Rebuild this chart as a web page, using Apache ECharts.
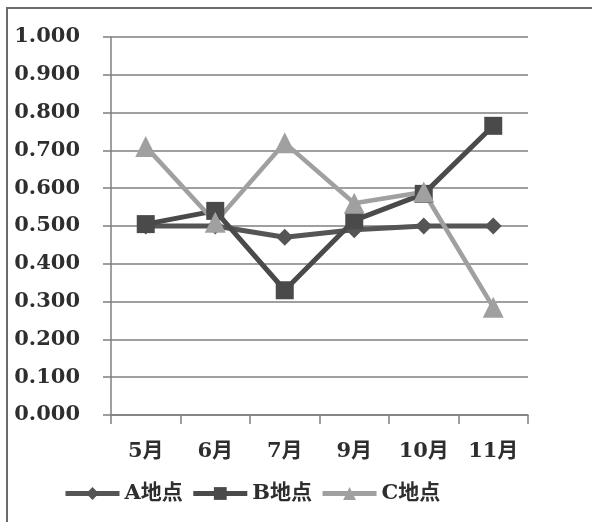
<!DOCTYPE html>
<html><head><meta charset="utf-8">
<script src="https://cdn.jsdelivr.net/npm/echarts@6/dist/echarts.min.js"></script>
<style>html,body{margin:0;padding:0;background:#fff}#c{width:592px;height:522px}</style>
</head><body><div id="c"></div>
<script>
const categories = ['5月','6月','7月','9月','10月','11月'];
const seriesA = [0.500, 0.500, 0.470, 0.490, 0.500, 0.500];
const seriesB = [0.505, 0.540, 0.330, 0.515, 0.585, 0.765];
const seriesC = [0.710, 0.510, 0.720, 0.560, 0.590, 0.285];
const seriesNames = ['A地点','B地点','C地点'];
const yTicks = {min: 0, max: 1, interval: 0.1};

const FONT = '"DejaVu Serif", "Noto Sans CJK SC", serif';
const TXT = {fontFamily:FONT, fontSize:21, fontWeight:'bold', color:'#2e2e2e'};
const chart = echarts.init(document.getElementById('c'));
function mk(name, data, color, symbol, size, w){
  return {name, type:'line', data, symbol, symbolSize:size, showSymbol:true,
    lineStyle:{color:color, width:w}, itemStyle:{color:color}, emphasis:{disabled:true}, animation:false};
}
chart.setOption({
  animation:false,
  graphic:[{type:'rect', shape:{x:7,y:8,width:600,height:530}, style:{fill:'none', stroke:'#6b6b6b', lineWidth:2}}],
  grid:{left:111, right:64, top:37, bottom:107},
  legend:{left:58, top:478, itemWidth:54, itemHeight:16, itemGap:8,
    lineStyle:{width:5},
    textStyle:Object.assign({}, TXT), data:seriesNames},
  xAxis:{type:'category', data:categories, boundaryGap:true,
    axisLine:{lineStyle:{color:'#7f7f7f', width:1.5}},
    axisTick:{show:true, length:9, lineStyle:{color:'#7f7f7f', width:1.5}},
    axisLabel:Object.assign({margin:26}, TXT)},
  yAxis:{type:'value', min:yTicks.min, max:yTicks.max, interval:yTicks.interval,
    axisLine:{show:true, lineStyle:{color:'#7f7f7f', width:1.5}},
    axisTick:{show:true, length:8, lineStyle:{color:'#7f7f7f', width:1.5}},
    splitLine:{lineStyle:{color:'#7f7f7f', width:1.5}},
    axisLabel:Object.assign({margin:31, formatter:v=>v.toFixed(3)}, TXT)},
  series:[
    mk(seriesNames[0], seriesA, '#555555', 'diamond', 17, 5),
    mk(seriesNames[1], seriesB, '#4a4a4a', 'rect', 18, 5),
    mk(seriesNames[2], seriesC, '#a0a0a0', 'triangle', 21, 4.5)
  ]
});
</script></body></html>
